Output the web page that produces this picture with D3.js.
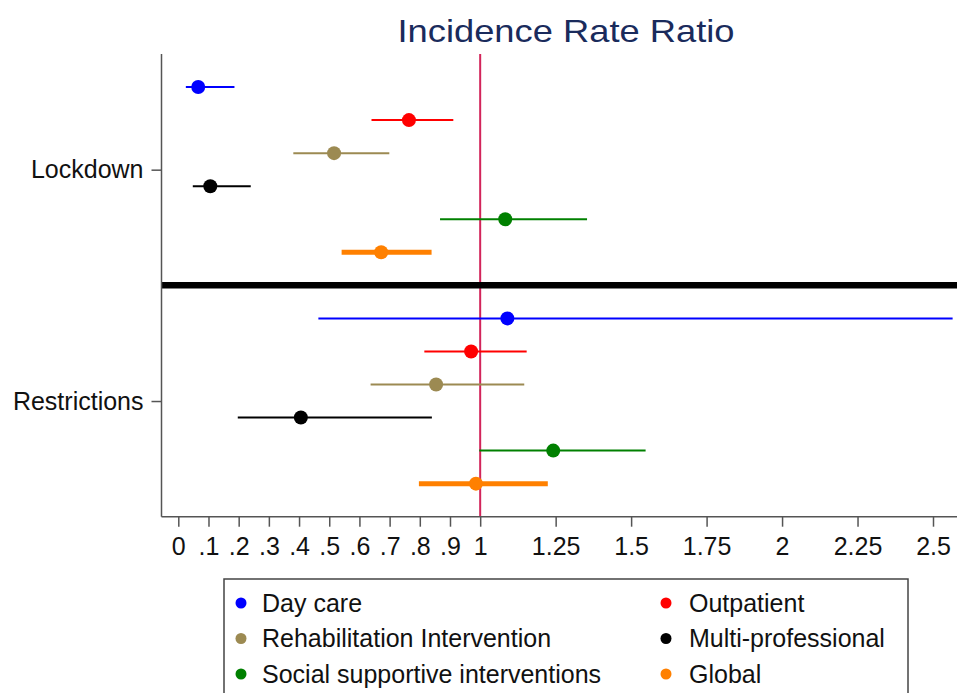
<!DOCTYPE html>
<html>
<head>
<meta charset="utf-8">
<script src="https://cdn.jsdelivr.net/npm/d3@7"></script>
<style>
  body { margin: 0; background: #fff; }
  svg { display: block; font-family: "Liberation Sans", Arial, sans-serif; }
</style>
</head>
<body>
<svg id="chart" width="957" height="693"></svg>
<script>
// groups and categories
const groups = ["Lockdown", "Restrictions"];
const categories = ["Day care", "Outpatient", "Rehabilitation Intervention",
  "Multi-professional", "Social supportive interventions", "Global"];
const colors = ["#0000ff", "#ff0000", "#9c8a52", "#000000", "#008000", "#ff8000"];

// IRR point estimates and 95% CI, per group (order as categories)
const lockdownIRR = [0.066, 0.764, 0.516, 0.106, 1.083, 0.672];
const lockdownLo  = [0.025, 0.640, 0.381, 0.048, 0.867, 0.541];
const lockdownHi  = [0.186, 0.911, 0.699, 0.240, 1.354, 0.839];
const restrIRR = [1.090, 0.970, 0.854, 0.406, 1.242, 0.986];
const restrLo  = [0.464, 0.815, 0.637, 0.197, 0.997, 0.797];
const restrHi  = [2.565, 1.154, 1.146, 0.840, 1.548, 1.224];

const tickVals = [0, .1, .2, .3, .4, .5, .6, .7, .8, .9, 1, 1.25, 1.5, 1.75, 2, 2.25, 2.5];
const tickLabels = ["0", ".1", ".2", ".3", ".4", ".5", ".6", ".7", ".8", ".9", "1",
  "1.25", "1.5", "1.75", "2", "2.25", "2.5"];

(function () {
  const svg = d3.select("#chart");

  const left = 161.5, right = 965, top = 54, bottom = 516.7;

  const x = d3.scaleLinear().domain([0, 2.5]).range([178.3, 933]);
  // row index: 0..5 lockdown, 6 separator, 7..12 restrictions
  const y = d3.scaleLinear().domain([-1, 13]).range([top, bottom]);

  const rows = [];
  categories.forEach((c, i) => {
    rows.push({ cat: c, color: colors[i], est: lockdownIRR[i], lo: lockdownLo[i], hi: lockdownHi[i], row: i, global: c === "Global" });
  });
  categories.forEach((c, i) => {
    rows.push({ cat: c, color: colors[i], est: restrIRR[i], lo: restrLo[i], hi: restrHi[i], row: i + 7, global: c === "Global" });
  });

  // title
  svg.append("text")
    .attr("x", 566).attr("y", 42)
    .attr("text-anchor", "middle")
    .attr("fill", "#1a2b5c")
    .attr("textLength", 337)
    .attr("lengthAdjust", "spacingAndGlyphs")
    .style("font-size", "32px")
    .text("Incidence Rate Ratio");

  // reference line at 1
  svg.append("line")
    .attr("x1", x(1)).attr("x2", x(1))
    .attr("y1", top).attr("y2", bottom)
    .attr("stroke", "#d2245a").attr("stroke-width", 2);

  // group separator
  svg.append("line")
    .attr("x1", left).attr("x2", right)
    .attr("y1", y(6)).attr("y2", y(6))
    .attr("stroke", "#000").attr("stroke-width", 6.5);

  // CI lines
  svg.append("g").selectAll("line")
    .data(rows)
    .join("line")
    .attr("x1", (d) => x(d.lo)).attr("x2", (d) => x(d.hi))
    .attr("y1", (d) => y(d.row)).attr("y2", (d) => y(d.row))
    .attr("stroke", (d) => d.color)
    .attr("stroke-width", (d) => (d.global ? 5 : 2));

  // points
  svg.append("g").selectAll("circle")
    .data(rows)
    .join("circle")
    .attr("cx", (d) => x(d.est)).attr("cy", (d) => y(d.row))
    .attr("r", 7)
    .attr("fill", (d) => d.color);

  // x axis
  const xAxis = d3.axisBottom(x)
    .tickValues(tickVals)
    .tickFormat((d, i) => tickLabels[i])
    .tickSize(10).tickPadding(11)
    .tickSizeOuter(0);
  const gx = svg.append("g")
    .attr("transform", `translate(0,${bottom})`)
    .call(xAxis);
  gx.select(".domain").remove();
  gx.selectAll(".tick line").attr("stroke", "#555").attr("stroke-width", 1.5);
  gx.selectAll("text").attr("fill", "#111").style("font-size", "25px").style("font-family", "Liberation Sans, Arial, sans-serif");
  svg.append("line")
    .attr("x1", left).attr("x2", right)
    .attr("y1", bottom).attr("y2", bottom)
    .attr("stroke", "#555").attr("stroke-width", 1.5);

  // y axis
  const yAxis = d3.axisLeft(y)
    .tickValues([2.5, 9.5])
    .tickFormat((d, i) => groups[i])
    .tickSize(10).tickPadding(8)
    .tickSizeOuter(0);
  const gy = svg.append("g")
    .attr("transform", `translate(${left},0)`)
    .call(yAxis);
  gy.select(".domain").remove();
  gy.selectAll(".tick line").attr("stroke", "#555").attr("stroke-width", 1.5);
  gy.selectAll("text").attr("fill", "#111").style("font-size", "25px").style("font-family", "Liberation Sans, Arial, sans-serif");
  svg.append("line")
    .attr("x1", left).attr("x2", left)
    .attr("y1", top).attr("y2", bottom)
    .attr("stroke", "#555").attr("stroke-width", 1.5);

  // legend
  const lg = svg.append("g");
  lg.append("rect")
    .attr("x", 224).attr("y", 579)
    .attr("width", 684).attr("height", 130)
    .attr("fill", "none").attr("stroke", "#444").attr("stroke-width", 1.5);

  const legendItems = lg.selectAll("g.item")
    .data(categories)
    .join("g")
    .attr("class", "item")
    .attr("transform", (d, i) => `translate(${i % 2 === 0 ? 241 : 666},${603 + Math.floor(i / 2) * 35.5})`);
  legendItems.append("circle")
    .attr("r", 5.5)
    .attr("fill", (d, i) => colors[i]);
  legendItems.append("text")
    .attr("x", (d, i) => (i % 2 === 0 ? 21 : 23)).attr("dy", "0.35em")
    .attr("fill", "#111")
    .style("font-size", "25px")
    .text((d) => d);
})();
</script>
</body>
</html>
